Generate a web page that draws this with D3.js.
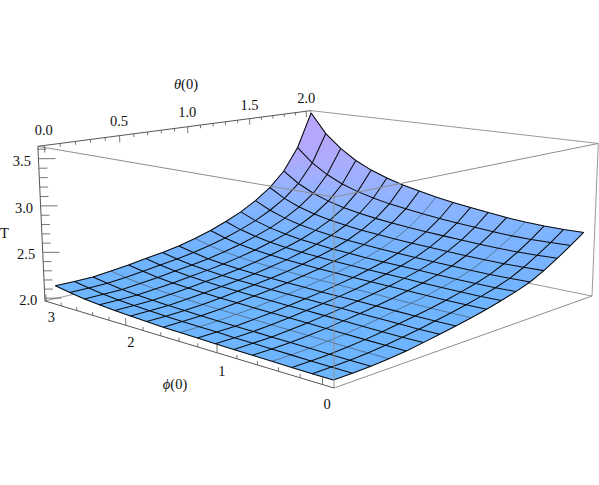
<!DOCTYPE html><html><head><meta charset="utf-8"><style>html,body{margin:0;background:#fff}svg{display:block}text{font-family:"Liberation Serif",serif;font-size:14.5px;fill:#111}</style><script src="https://cdnjs.cloudflare.com/ajax/libs/d3/7.8.5/d3.min.js"></script></head><body><svg id="c" width="599" height="485"></svg><script>
// T values; rows run from phi(0)=0 to its maximum, columns from theta(0)=0 to 2
const row0=[2.002,2.003,2.008,2.020,2.036,2.060,2.086,2.114,2.144,2.179,2.217,2.261,2.314,2.388,2.476,2.571,2.672];
const row1=[2.002,2.004,2.010,2.021,2.038,2.061,2.086,2.115,2.144,2.178,2.214,2.257,2.309,2.382,2.469,2.564,2.669];
const row2=[2.003,2.007,2.012,2.024,2.041,2.064,2.090,2.116,2.145,2.178,2.216,2.257,2.308,2.379,2.464,2.561,2.671];
const row3=[2.007,2.010,2.016,2.029,2.046,2.069,2.094,2.121,2.149,2.182,2.218,2.259,2.310,2.381,2.465,2.563,2.679];
const row4=[2.010,2.014,2.020,2.034,2.051,2.074,2.098,2.125,2.153,2.186,2.223,2.264,2.316,2.386,2.471,2.573,2.695];
const row5=[2.013,2.017,2.024,2.038,2.056,2.079,2.103,2.129,2.158,2.191,2.229,2.271,2.323,2.394,2.481,2.587,2.719];
const row6=[2.016,2.020,2.028,2.042,2.060,2.084,2.107,2.133,2.162,2.196,2.234,2.277,2.330,2.401,2.491,2.600,2.742];
const row7=[2.020,2.025,2.031,2.047,2.065,2.087,2.111,2.136,2.167,2.199,2.239,2.282,2.337,2.410,2.501,2.617,2.768];
const row8=[2.023,2.028,2.035,2.050,2.068,2.092,2.115,2.141,2.171,2.205,2.245,2.289,2.346,2.420,2.514,2.637,2.800];
const row9=[2.028,2.033,2.039,2.055,2.074,2.097,2.120,2.146,2.177,2.211,2.253,2.299,2.358,2.434,2.532,2.662,2.840];
const row10=[2.035,2.038,2.046,2.061,2.080,2.104,2.127,2.153,2.184,2.220,2.262,2.310,2.371,2.449,2.551,2.688,2.881];
const row11=[2.043,2.047,2.053,2.069,2.088,2.113,2.135,2.161,2.194,2.230,2.276,2.326,2.389,2.471,2.578,2.726,2.936];
const row12=[2.053,2.056,2.062,2.078,2.098,2.123,2.145,2.173,2.206,2.245,2.292,2.344,2.413,2.498,2.611,2.772,3.004];
const row13=[2.066,2.069,2.074,2.091,2.111,2.137,2.160,2.188,2.224,2.265,2.315,2.371,2.444,2.537,2.658,2.834,3.094];
const row14=[2.083,2.085,2.089,2.107,2.128,2.155,2.180,2.209,2.247,2.291,2.347,2.409,2.489,2.589,2.723,2.922,3.217];
const row15=[2.108,2.109,2.113,2.132,2.155,2.183,2.207,2.240,2.282,2.330,2.391,2.461,2.551,2.662,2.813,3.038,3.379];
const row16=[2.136,2.136,2.139,2.161,2.186,2.217,2.244,2.279,2.327,2.382,2.453,2.533,2.637,2.765,2.939,3.205,3.615];
const grid=[row0,row1,row2,row3,row4,row5,row6,row7,row8,row9,row10,row11,row12,row13,row14,row15,row16];
const phiTicks=[0,.2,.4,.6,.8,1,1.2,1.4,1.6,1.8,2,2.2,2.4,2.6,2.8,3];
const thetaTicks=[0,.1,.2,.3,.4,.5,.6,.7,.8,.9,1,1.1,1.2,1.3,1.4,1.5,1.6,1.7,1.8,1.9,2];
const tTicks=[2,2.1,2.2,2.3,2.4,2.5,2.6,2.7,2.8,2.9,3,3.1,3.2,3.3,3.4,3.5,3.6];
const phiLabels=[0,1,2,3],thetaLabels=[0,.5,1,1.5,2],tLabels=[2,2.5,3,3.5];
const lightMeshLines=[3,8];

const uS=d3.scaleLinear([0,3],[.032,.995]),vS=d3.scaleLinear([0,2],[.02,.98]),wS=d3.scaleLinear([1.97,3.63],[0,1]);
const uI=d3.scaleLinear([0,16],[.02,.98]),vI=uI;
function P(u,v,w){const D=1+.245*u+.262*v-.03*w;return [(334-278*u+413.1*v-10*w)/D,(388-13.3*u-14.4*v-196.9*w)/D];}
const svg=d3.select('#c');
const line=d3.line();
const seg=(g,a,b,col,wd)=>g.append('path').attr('d',line([P(...a),P(...b)])).attr('fill','none').attr('stroke',col).attr('stroke-width',wd);
const back=svg.append('g');
[[[1,0,0],[1,1,0]],[[1,1,0],[0,1,0]],[[1,1,1],[0,1,1]],[[0,1,1],[0,1,0]],[[1,1,0],[1,1,1]]].forEach(e=>seg(back,e[0],e[1],'#999',1));
const defs=svg.append('defs');
const cs=d3.scaleLinear().domain([0,.03,.09,.16,.25]).range(['#6DB6FF','#70B3FF','#8AB4FF','#A6AFFF','#BCA4FB']).clamp(true);
function slope(k,j){const a=grid[Math.min(k+1,16)][j]-grid[Math.max(k-1,0)][j],b=grid[k][Math.min(j+1,16)]-grid[k][Math.max(j-1,0)];return Math.hypot(a/(k==0||k==16?1:2),b/(j==0||j==16?1:2))/1.66;}
const surf=svg.append('g');
for(let k=0;k<16;k++)for(let j=0;j<16;j++){
 const q=[[k,j],[k+1,j],[k+1,j+1],[k,j+1]];
 const pts=q.map(([a,b])=>P(uI(a),vI(b),wS(grid[a][b])));
 const ys=pts.map(p=>p[1]);const hi=ys.indexOf(d3.min(ys)),lo=ys.indexOf(d3.max(ys));
 const id=`g${k}_${j}`;
 const gr=defs.append('linearGradient').attr('id',id).attr('gradientUnits','userSpaceOnUse').attr('x1',pts[hi][0]).attr('y1',pts[hi][1]).attr('x2',pts[lo][0]).attr('y2',pts[lo][1]);
 gr.append('stop').attr('offset',0).attr('stop-color',cs(slope(...q[hi])));
 gr.append('stop').attr('offset',1).attr('stop-color',cs(slope(...q[lo])));
 surf.append('path').attr('d',line(pts)+'Z').attr('fill',`url(#${id})`).attr('stroke',`url(#${id})`).attr('stroke-width',.6);
}
const mesh=svg.append('g').attr('fill','none');
const idx=d3.range(17);
const mk=k=>line(idx.map(j=>P(uI(k),vI(j),wS(grid[k][j]))));
const mj=j=>line(idx.map(k=>P(uI(k),vI(j),wS(grid[k][j]))));
lightMeshLines.forEach(i=>[mk(i),mj(i)].forEach(d=>mesh.append('path').attr('d',d).attr('stroke','#4f6d8e').attr('stroke-width',.9)));
idx.filter(i=>!lightMeshLines.includes(i)).forEach(i=>[mk(i),mj(i)].forEach(d=>mesh.append('path').attr('d',d).attr('stroke','#0a0a0a').attr('stroke-width',1.05)));
const front=svg.append('g');
[[[0,0,0],[0,0,1]],[[1,0,1],[0,0,1]],[[0,1,1],[0,0,1]],[[0,0,0],[0,1,0]]].forEach(e=>seg(front,e[0],e[1],'#8f8f8f',1));
const ax=svg.append('g');
const dk='#555';
seg(ax,[1,0,0],[0,0,0],dk,1);seg(ax,[1,0,0],[1,0,1],dk,1);seg(ax,[1,0,1],[1,1,1],dk,1);
phiTicks.forEach((p,i)=>seg(ax,[uS(p),0,0],[uS(p),0,i%5==0?.045:.022],dk,.8));
thetaTicks.forEach((p,i)=>seg(ax,[1,vS(p),1],[1,vS(p),1-(i%5==0?.045:.022)],dk,.8));
tTicks.forEach((p,i)=>seg(ax,[1,0,wS(p)],[1-(i%5==0?.03:.015),(i%5==0?.03:.015),wS(p)],dk,.8));
const lab=(xy,t,a='middle')=>svg.append('text').attr('x',xy[0]).attr('y',xy[1]).attr('text-anchor',a).attr('dominant-baseline','central').text(t);
phiLabels.forEach(p=>{const q=P(uS(p),0,-.105);lab([q[0]+4.5,q[1]],p)});
thetaLabels.forEach(p=>lab(P(1,vS(p),1.1),p.toFixed(1)));
tLabels.forEach(p=>{const q=P(1,0,wS(p));lab([q[0]-7.5,q[1]+2],p.toFixed(1),'end')});
const th=svg.append('text').attr('x',186).attr('y',84).attr('text-anchor','middle').attr('dominant-baseline','central');th.append('tspan').attr('font-style','italic').text('θ');th.append('tspan').text('(0)');
const ph=svg.append('text').attr('x',175).attr('y',384).attr('text-anchor','middle').attr('dominant-baseline','central');ph.append('tspan').attr('font-style','italic').text('ϕ');ph.append('tspan').text('(0)');
lab([0,233],'T','start');
</script></body></html>
